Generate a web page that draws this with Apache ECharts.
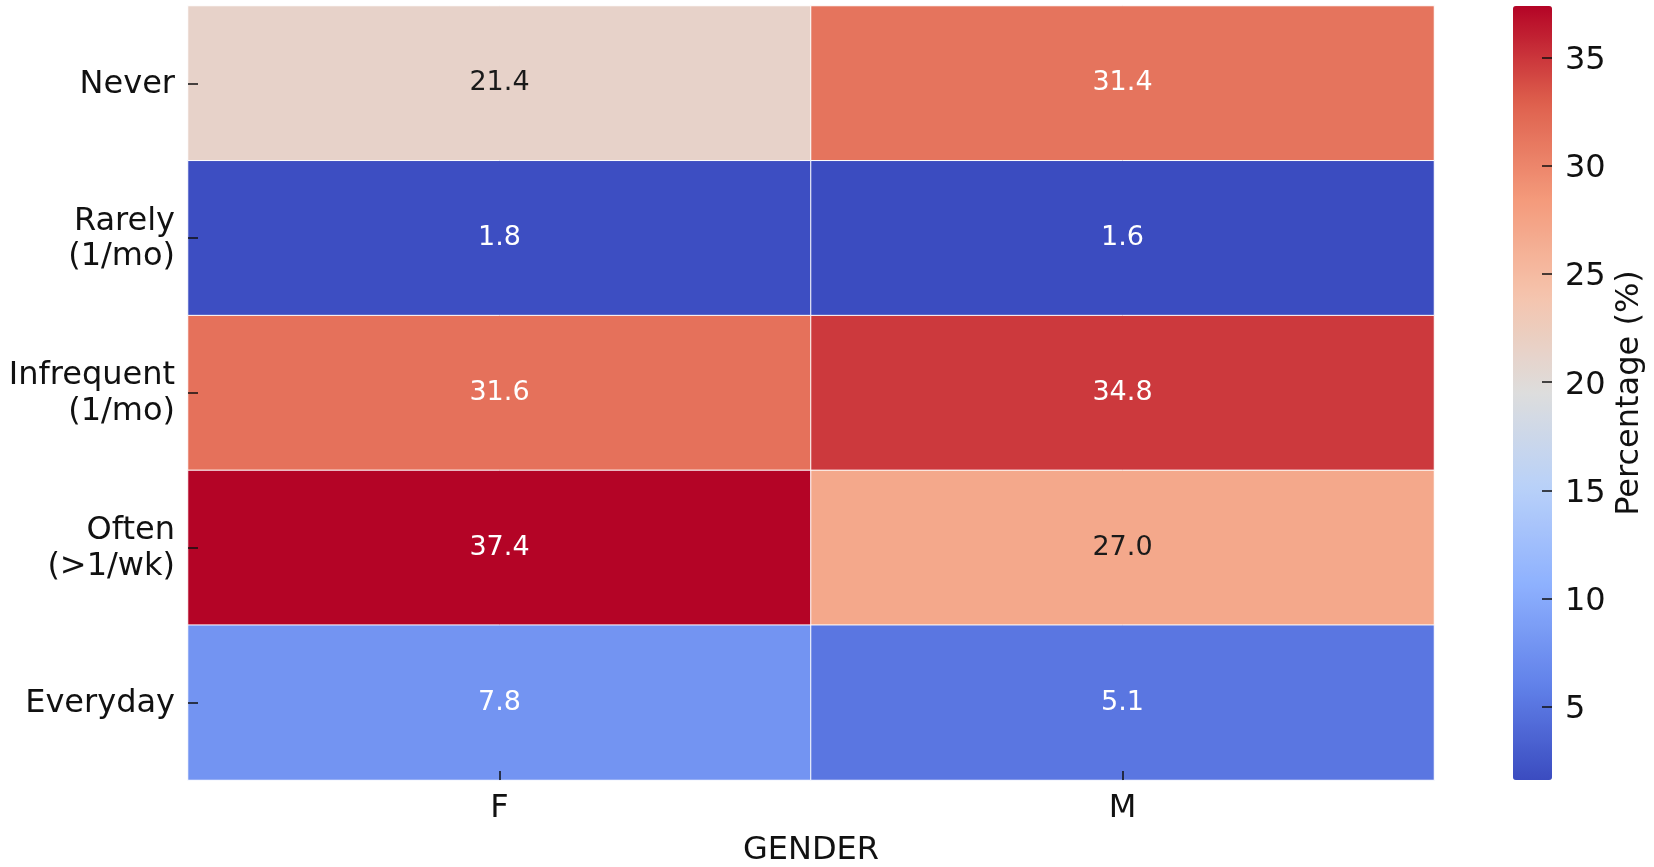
<!DOCTYPE html>
<html>
<head>
<meta charset="utf-8">
<script src="https://cdn.jsdelivr.net/npm/echarts@6/dist/echarts.min.js"></script>
<style>
  html, body { margin: 0; padding: 0; background: #fff; }
  #chart { width: 1654px; height: 867px; }
</style>
</head>
<body>
<div id="chart"></div>
<script>
// Data
const genders = ['F', 'M'];
const frequencies = ['Never', 'Rarely\n(1/mo)', 'Infrequent\n(1/mo)', 'Often\n(>1/wk)', 'Everyday'];
const femaleValues = [21.4, 1.8, 31.6, 37.4, 7.8];
const maleValues = [31.4, 1.6, 34.8, 27.0, 5.1];
const colorbarTicks = [5, 10, 15, 20, 25, 30, 35];
const valueMin = 1.6;
const valueMax = 37.4;

// matplotlib "coolwarm" stops
const coolwarm = ['#3b4cc0', '#6282ea', '#8db0fe', '#b8d0f9', '#dddddd',
                  '#f5c4ad', '#f49a7b', '#de604d', '#b40426'];

const font = 'DejaVu Sans';
const tickStyle = { color: '#111', width: 1.5 };

// Build heatmap cells [x, y, value]
const cells = [];
[femaleValues, maleValues].forEach((vals, xi) => {
    vals.forEach((v, yi) => {
        // light cells get dark text, like seaborn annotations
        const dark = v > 18 && v < 29;
        cells.push({
            value: [xi, yi, v],
            label: { color: dark ? '#1a1a1a' : '#ffffff' }
        });
    });
});

// rich-text labels nudged down a little so caps sit centred on the tick
const labelRich = {
    p: { fontSize: 32, fontFamily: font, color: '#111', lineHeight: 37, padding: [3, 0, 0, 0] },
    t: { fontSize: 32, fontFamily: font, color: '#111', lineHeight: 37 },
    c: { fontSize: 32, fontFamily: font, color: '#111', lineHeight: 37, padding: [6, 0, 0, 0] }
};
const catLabel = v => v.split('\n').map((s, i) => (i === 0 ? '{p|' : '{t|') + s + '}').join('\n');

const chart = echarts.init(document.getElementById('chart'));

const option = {
    backgroundColor: '#fff',
    animation: false,
    textStyle: { fontFamily: font },
    grid: [
        { left: 188, right: 220, top: 6, bottom: 87, outerBoundsMode: 'none' },
        // grid used only for the colorbar ticks; its right edge sits 10px inside the bar
        { left: 1513, width: 29, top: 6, height: 774, outerBoundsMode: 'none' }
    ],
    xAxis: [
        {
            type: 'category',
            data: genders,
            gridIndex: 0,
            z: 10,
            name: 'GENDER',
            nameLocation: 'middle',
            nameGap: 55,
            nameTextStyle: { fontSize: 32, color: '#111', fontFamily: font },
            axisLine: { show: false },
            axisTick: { show: true, inside: true, alignWithLabel: true, length: 9, lineStyle: tickStyle },
            axisLabel: { fontSize: 32, color: '#111', margin: 13, fontFamily: font },
            splitLine: { show: false }
        },
        {
            type: 'value',
            gridIndex: 1,
            min: 0,
            max: 1,
            show: false
        }
    ],
    yAxis: [
        {
            type: 'category',
            data: frequencies,
            gridIndex: 0,
            inverse: true,
            z: 10,
            axisLine: { show: false },
            axisTick: { show: true, inside: true, alignWithLabel: true, length: 10, lineStyle: tickStyle },
            axisLabel: { margin: 13, align: 'right', formatter: catLabel, rich: labelRich },
            splitLine: { show: false }
        },
        {
            type: 'value',
            gridIndex: 1,
            position: 'right',
            zlevel: 1,
            z: 10,
            min: valueMin,
            max: valueMax,
            name: 'Percentage (%)',
            nameLocation: 'middle',
            nameRotate: 90,
            nameGap: 72,
            nameTextStyle: { fontSize: 32, color: '#111', fontFamily: font },
            axisLine: { show: false, onZero: false },
            axisTick: { show: true, length: 10, customValues: colorbarTicks, lineStyle: tickStyle },
            axisLabel: { margin: 23, customValues: colorbarTicks,
                         formatter: v => '{c|' + v + '}', rich: labelRich },
            splitLine: { show: false }
        }
    ],
    visualMap: {
        type: 'continuous',
        seriesIndex: 0,
        min: valueMin,
        max: valueMax,
        calculable: false,
        orient: 'vertical',
        left: 1513,
        top: 6,
        z: 2,
        padding: 0,
        itemWidth: 39,
        itemHeight: 774,
        text: ['', ''],
        showLabel: false,
        inRange: { color: coolwarm }
    },
    series: [
        {
            type: 'heatmap',
            xAxisIndex: 0,
            yAxisIndex: 0,
            data: cells,
            label: {
                show: true,
                fontSize: 27,
                fontFamily: font,
                formatter: p => p.value[2].toFixed(1)
            },
            itemStyle: { borderColor: '#ffffff', borderWidth: 1 },
            emphasis: { disabled: true }
        },
        {
            type: 'line',
            xAxisIndex: 1,
            yAxisIndex: 1,
            data: []
        }
    ]
};

chart.setOption(option);
</script>
</body>
</html>
